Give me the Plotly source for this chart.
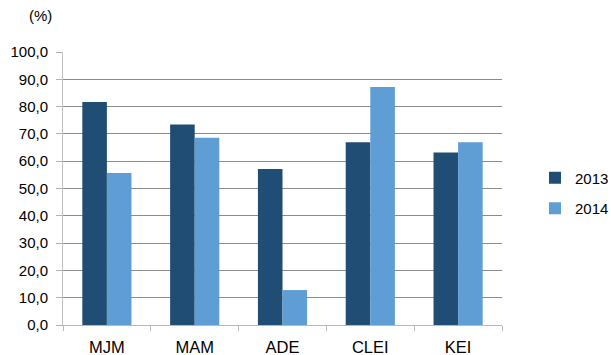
import plotly.graph_objects as go

categories = ["MJM", "MAM", "ADE", "CLEI", "KEI"]
series_2013 = [81.7, 73.4, 57.1, 66.9, 63.2]
series_2014 = [55.7, 68.6, 12.8, 87.2, 66.9]
y_ticks = [0, 10, 20, 30, 40, 50, 60, 70, 80, 90, 100]

FONT = "Liberation Sans, Arial, sans-serif"

fig = go.Figure()
fig.add_trace(go.Bar(x=categories, y=series_2013, name="2013", legendgroup="a",
                     marker=dict(color="#204D74", line=dict(width=0))))
fig.add_trace(go.Bar(x=categories, y=series_2014, name="2014", legendgroup="b",
                     marker=dict(color="#5F9DD5", line=dict(width=0))))

fig.update_layout(
    width=611, height=355,
    margin=dict(l=63, r=109, t=52, b=30, autoexpand=False),
    paper_bgcolor="white", plot_bgcolor="white",
    separators=",.",
    barmode="group", bargap=0.44, bargroupgap=0,
    font=dict(family=FONT, size=15, color="#000"),
    legend=dict(xref="container", yref="container",
                x=535 / 611, y=1 - 193 / 355, xanchor="left", yanchor="middle",
                font=dict(size=15), tracegroupgap=8, itemwidth=30,
                traceorder="grouped",
                bgcolor="rgba(0,0,0,0)"),
    xaxis=dict(showline=True, linecolor="#b8b8b8", linewidth=1,
               ticks="outside", tickson="boundaries", ticklen=5,
               tickcolor="#b8b8b8", tickfont=dict(size=16.5),
               ticklabelstandoff=7, automargin=False),
    yaxis=dict(range=[0, 100], tickvals=y_ticks, tickformat=".1f",
               showline=True, linecolor="#c0c0c0", linewidth=1,
               ticks="outside", ticklen=6, tickcolor="#b0b0b0",
               showgrid=True, gridcolor="#8c8c8c", gridwidth=1,
               zeroline=False, tickfont=dict(size=15),
               ticklabelstandoff=5, automargin=False),
    annotations=[dict(text="(%)", x=(40 - 63) / 439, y=(325 - 15) / 273,
                      xref="paper", yref="paper", xanchor="center",
                      yanchor="middle", showarrow=False,
                      font=dict(size=15))],
)

fig.write_html("out.html")
